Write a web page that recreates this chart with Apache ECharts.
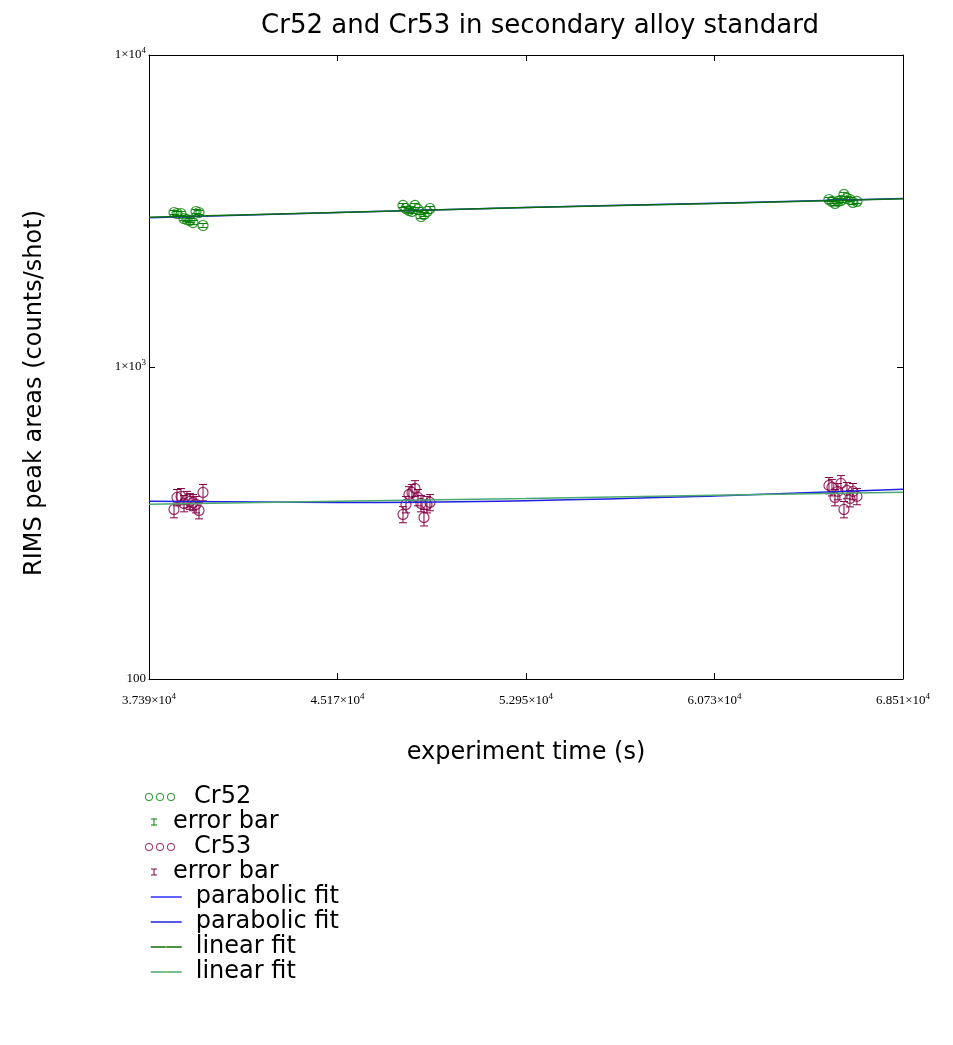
<!DOCTYPE html>
<html lang="en">
<head>
<meta charset="utf-8">
<title>Cr52 and Cr53</title>
<script src="https://cdn.jsdelivr.net/npm/echarts@6/dist/echarts.min.js"></script>
<style>
  html, body { margin: 0; padding: 0; background: #fff; }
  #chart { width: 953px; height: 1045px; }
</style>
</head>
<body>
<div id="chart"></div>
<script type="text/javascript">
// shot times (s), same for both isotopes
let times = [38422, 38546, 38711, 38834, 38958, 39082, 39206, 39330, 39454, 39619,
             47873, 47997, 48120, 48244, 48368, 48492, 48615, 48739, 48863, 48987,
             65454, 65578, 65702, 65825, 65949, 66073, 66197, 66320, 66444, 66609];
let cr52 = [3128, 3105, 3105, 2991, 2969, 2948, 2904, 3151, 3128, 2841,
            3294, 3221, 3174, 3151, 3294, 3198, 3036, 3082, 3151, 3221,
            3443, 3393, 3343, 3393, 3418, 3574, 3469, 3443, 3368, 3393];
let cr52Err = [47, 47, 47, 45, 45, 44, 44, 47, 47, 43,
               49, 48, 48, 47, 49, 48, 46, 46, 47, 48,
               52, 51, 50, 51, 51, 54, 52, 52, 51, 51];
let cr53 = [349.5, 381.9, 384.8, 365.4, 376.3, 370.8, 368.1, 362.7, 347.0, 396.3,
            336.8, 362.7, 390.5, 396.3, 408.2, 381.9, 365.4, 329.4, 362.7, 368.1,
            417.4, 411.2, 381.9, 399.3, 423.6, 349.5, 402.2, 379.1, 399.3, 384.8];
let cr53Err = [21, 23, 23, 22, 23, 22, 22, 22, 21, 24,
               20, 22, 23, 24, 24, 23, 22, 20, 22, 22,
               25, 25, 23, 24, 25, 21, 24, 23, 24, 23];

// fit curves read at the tick times
let fitTimes = [37390, 45170, 52950, 60730, 68510];
let cr52Para = [3010, 3125, 3245, 3350, 3465];
let cr52Lin = [3020, 3130, 3243, 3345, 3460];
let cr53Para = [371, 368, 373, 386, 406];
let cr53Lin = [363, 371, 379, 388, 397];

let xTickValues = [37390, 45170, 52950, 60730, 68510];
let yMin = 100, yMax = 10000;

let green = '#008000';
let maroon = '#850045';

function pairs(xs, ys) {
    return xs.map((x, i) => [x, ys[i]]);
}
function errRows(xs, ys, es) {
    return xs.map((x, i) => [x, ys[i] - es[i], ys[i] + es[i]]);
}

function renderErr(params, api) {
    let x = api.value(0);
    let lo = api.coord([x, api.value(1)]);
    let hi = api.coord([x, api.value(2)]);
    let w = 4;
    let style = { stroke: api.visual('color'), lineWidth: 1 };
    return {
        type: 'group',
        children: [
            { type: 'line', shape: { x1: lo[0], y1: lo[1], x2: hi[0], y2: hi[1] }, style: style },
            { type: 'line', shape: { x1: lo[0] - w, y1: lo[1], x2: lo[0] + w, y2: lo[1] }, style: style },
            { type: 'line', shape: { x1: hi[0] - w, y1: hi[1], x2: hi[0] + w, y2: hi[1] }, style: style }
        ]
    };
}

let serifRich = {
    b: { fontFamily: 'Liberation Serif', fontSize: 13, color: '#000' },
    s: { fontFamily: 'Liberation Serif', fontSize: 9, color: '#000', padding: [0, 0, 9, 0] }
};

function xLabel(v) {
    return '{b|' + (v / 10000).toFixed(3) + '×10}{s|4}';
}
function yLabel(v) {
    if (v <= 100) return '{b|100}';
    return '{b|1×10}{s|' + Math.round(Math.log10(v)) + '}';
}

let ringIcon = 'path://M0,4 A4,4 0 1,0 8,4 A4,4 0 1,0 0,4 Z M1,4 A3,3 0 1,1 7,4 A3,3 0 1,1 1,4 Z' +
    ' M11,4 A4,4 0 1,0 19,4 A4,4 0 1,0 11,4 Z M12,4 A3,3 0 1,1 18,4 A3,3 0 1,1 12,4 Z' +
    ' M22,4 A4,4 0 1,0 30,4 A4,4 0 1,0 22,4 Z M23,4 A3,3 0 1,1 29,4 A3,3 0 1,1 23,4 Z';
let barIcon = 'path://M0,0 L6,0 L6,1 L3.5,1 L3.5,6 L6,6 L6,7 L0,7 L0,6 L2.5,6 L2.5,1 L0,1 Z';

let legendText = { fontFamily: 'DejaVu Sans', fontSize: 24, color: '#000', lineHeight: 24 };

function legendRow(top, left, w, h, item, padLeft) {
    return {
        top: top, left: left, padding: 0,
        itemWidth: w, itemHeight: h,
        selectedMode: false,
        textStyle: Object.assign({}, legendText, { padding: [0, 0, 0, padLeft] }),
        data: [item]
    };
}

let legends = [
    legendRow(785, 145, 30, 8, { name: 'Cr52', icon: ringIcon, itemStyle: { color: green, borderWidth: 0 } }, 14),
    legendRow(810, 151, 6, 7, { name: 'error bar', icon: barIcon, itemStyle: { color: green, borderWidth: 0 } }, 11),
    legendRow(835, 145, 30, 8, { name: 'Cr53', icon: ringIcon, itemStyle: { color: maroon, borderWidth: 0 } }, 14),
    legendRow(860, 151, 6, 7, { name: 'error bar', icon: barIcon, itemStyle: { color: maroon, borderWidth: 0 } }, 11),
    legendRow(885, 150, 31, 2, { name: 'parabolic fit', lineStyle: { color: '#2f2fff', width: 1.5 } }, 9),
    legendRow(910, 150, 31, 2, { name: 'parabolic fit', lineStyle: { color: '#2020e0', width: 1.5 } }, 9),
    legendRow(935, 150, 31, 2, { name: 'linear fit', lineStyle: { color: '#0a6e0a', width: 1.5 } }, 9),
    legendRow(960, 150, 31, 2, { name: 'linear fit', lineStyle: { color: '#4aa870', width: 1.5 } }, 9)
];

let axisBlack = { color: '#000', width: 1 };

let option = {
    animation: false,
    backgroundColor: '#fff',
    title: {
        text: 'Cr52 and Cr53 in secondary alloy standard',
        left: 535, top: 8, textAlign: 'center',
        textStyle: { fontFamily: 'DejaVu Sans', fontSize: 26, fontWeight: 'normal', color: '#000' }
    },
    legend: legends,
    grid: { left: 149, right: 50, top: 55, bottom: 366 },
    xAxis: [{
        type: 'value', position: 'bottom', min: 37390, max: 68510,
        name: 'experiment time (s)', nameLocation: 'middle', nameGap: 62,
        nameTextStyle: { fontFamily: 'DejaVu Sans', fontSize: 24, color: '#000' },
        axisLine: { show: true, onZero: false, lineStyle: axisBlack },
        axisTick: { show: true, inside: true, length: 6, customValues: xTickValues, lineStyle: axisBlack },
        axisLabel: { customValues: xTickValues, margin: 13, formatter: xLabel, rich: serifRich },
        splitLine: { show: false }
    }, {
        type: 'value', position: 'top', min: 37390, max: 68510,
        axisLine: { show: true, onZero: false, lineStyle: axisBlack },
        axisTick: { show: true, inside: true, length: 6, customValues: xTickValues, lineStyle: axisBlack },
        axisLabel: { show: false },
        splitLine: { show: false }
    }],
    yAxis: [{
        type: 'log', logBase: 10, position: 'left', min: yMin, max: yMax,
        name: 'RIMS peak areas (counts/shot)', nameLocation: 'middle', nameGap: 102,
        nameTextStyle: { fontFamily: 'DejaVu Sans', fontSize: 24, color: '#000', padding: [0, 52, 0, 0] },
        axisLine: { show: true, onZero: false, lineStyle: axisBlack },
        axisTick: { show: true, inside: true, length: 6, lineStyle: axisBlack },
        axisLabel: { margin: 3, formatter: yLabel, rich: serifRich },
        minorTick: { show: false },
        splitLine: { show: false }
    }, {
        type: 'log', logBase: 10, position: 'right', min: yMin, max: yMax,
        axisLine: { show: true, onZero: false, lineStyle: axisBlack },
        axisTick: { show: true, inside: true, length: 6, lineStyle: axisBlack },
        axisLabel: { show: false },
        splitLine: { show: false }
    }],
    series: [
        {
            name: 'Cr52', type: 'scatter', data: pairs(times, cr52),
            symbol: 'circle', symbolSize: 10,
            itemStyle: { color: 'rgba(0,0,0,0)', borderColor: green, borderWidth: 1.2 }
        },
        {
            name: 'error bar', type: 'custom', data: errRows(times, cr52, cr52Err),
            encode: { x: 0, y: [1, 2] }, renderItem: renderErr,
            itemStyle: { color: green }
        },
        {
            name: 'Cr53', type: 'scatter', data: pairs(times, cr53),
            symbol: 'circle', symbolSize: 10,
            itemStyle: { color: 'rgba(0,0,0,0)', borderColor: maroon, borderWidth: 1.2 }
        },
        {
            name: 'error bar', type: 'custom', data: errRows(times, cr53, cr53Err),
            encode: { x: 0, y: [1, 2] }, renderItem: renderErr,
            itemStyle: { color: maroon }
        },
        {
            name: 'parabolic fit', type: 'line', data: pairs(fitTimes, cr52Para),
            symbol: 'none', smooth: true, lineStyle: { color: '#2f2fff', width: 1.5 }, z: 5
        },
        {
            name: 'parabolic fit', type: 'line', data: pairs(fitTimes, cr53Para),
            symbol: 'none', smooth: true, lineStyle: { color: '#2020e0', width: 1.5 }, z: 5
        },
        {
            name: 'linear fit', type: 'line', data: pairs(fitTimes, cr52Lin),
            symbol: 'none', lineStyle: { color: '#0a6e0a', width: 1.5 }, z: 5
        },
        {
            name: 'linear fit', type: 'line', data: pairs(fitTimes, cr53Lin),
            symbol: 'none', lineStyle: { color: '#4aa870', width: 1.5 }, z: 5
        }
    ]
};

let chart = echarts.init(document.getElementById('chart'), null, { renderer: 'canvas' });
chart.setOption(option);
</script>
</body>
</html>
